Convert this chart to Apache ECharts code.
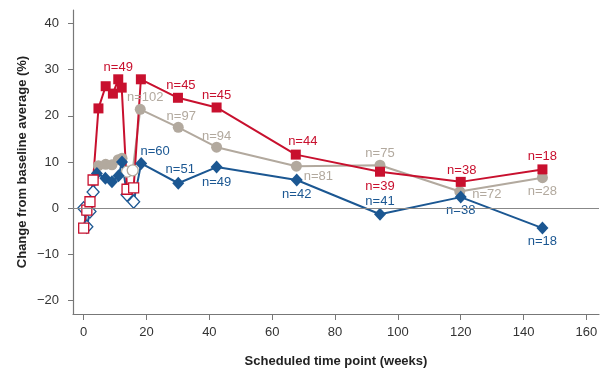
<!DOCTYPE html>
<html>
<head>
<meta charset="utf-8">
<script src="https://cdn.jsdelivr.net/npm/echarts@6/dist/echarts.min.js"></script>
<style>html,body{margin:0;padding:0;background:#fff}#c{width:615px;height:373px}</style>
</head>
<body>
<div id="c"></div>
<script>
// ---- data ----
const xTicks = [0, 20, 40, 60, 80, 100, 120, 140, 160];
const yTicks = [-20, -10, 0, 10, 20, 30, 40];

const redWeeks  = [0, 1, 2, 3, 4.7, 7, 9.3, 11, 12.1, 13.8, 15.9, 18.2, 30, 42.3, 67.5, 94.3, 120, 146];
const redValues = [-4.3, -0.4, 1.4, 6.1, 21.6, 26.4, 24.8, 27.9, 26.1, 4.1, 4.4, 27.9, 23.9, 21.8, 11.6, 7.9, 5.7, 8.4];
const redOpen   = [1, 1, 1, 1, 0, 0, 0, 0, 0, 1, 1, 0, 0, 0, 0, 0, 0, 0];
const redN      = ['', '', '', '', '', '', '', 'n=49', '', '', '', '', 'n=45', 'n=45', 'n=44', 'n=39', 'n=38', 'n=18'];

const grayWeeks  = [4.7, 7, 9, 11, 12.2, 13.8, 15.6, 18, 30.1, 42.3, 67.7, 94.3, 119.7, 146];
const grayValues = [9.2, 9.5, 9.4, 10.5, 10.8, 7.9, 8.2, 21.4, 17.5, 13.2, 9.1, 9.3, 3.6, 6.6];
const grayOpen   = [0, 0, 0, 0, 0, 1, 1, 0, 0, 0, 0, 0, 0, 0];
const grayN      = ['', '', '', '', '', '', '', 'n=102', 'n=97', 'n=94', 'n=81', 'n=75', 'n=72', 'n=28'];

const blueWeeks  = [0, 1, 2, 3, 4.2, 6.9, 9, 11.1, 12.2, 13.8, 15.9, 18.3, 30.1, 42.3, 67.8, 94.3, 120, 146];
const blueValues = [0, -4.0, -0.7, 3.5, 7.5, 6.5, 5.7, 7.0, 10.0, 2.9, 1.4, 9.7, 5.4, 8.9, 6.1, -1.3, 2.4, -4.3];
const blueOpen   = [1, 1, 1, 1, 0, 0, 0, 0, 0, 1, 1, 0, 0, 0, 0, 0, 0, 0];
const blueN      = ['', '', '', '', '', '', '', '', '', '', '', 'n=60', 'n=51', 'n=49', 'n=42', 'n=41', 'n=38', 'n=18'];

// ---- styles ----
const RED = '#c8102e', GRAY = '#b2a99e', BLUE = '#1b5792';
const redOff  = {7:[0,-12], 12:[3,-12], 13:[0,-12], 14:[7,-13], 15:[0,15], 16:[1,-11], 17:[0,-13]};
const grayOff = {7:[5,-12], 8:[3,-11], 9:[0,-11], 10:[22,10], 11:[0,-12], 12:[27,3], 13:[0,14]};
const blueOff = {11:[14,-12], 12:[2,-14], 13:[0,15], 14:[0,14], 15:[0,-13], 16:[0,13], 17:[0,13]};

function build(weeks, vals, open, ns, offs, color) {
  return weeks.map((w, i) => ({
    value: [w, vals[i]],
    itemStyle: open[i] ? {color: '#fff', borderColor: color, borderWidth: 1.3}
                       : {color: color, borderColor: color, borderWidth: 0},
    label: ns[i] ? {show: true, formatter: ns[i], position: 'inside', offset: offs[i] || [0, -12],
                    color: color, fontSize: 13, fontFamily: 'Liberation Sans'} : {show: false}
  }));
}

const axisFont = {fontFamily: 'Liberation Sans', fontSize: 13, color: '#333'};

const option = {
  animation: false,
  backgroundColor: '#fff',
  grid: {left: 73, right: 16, top: 10, bottom: 56, containLabel: false},
  xAxis: {
    type: 'value', min: -3.4, max: 164,
    name: 'Scheduled time point (weeks)', nameLocation: 'middle', nameGap: 41,
    nameTextStyle: {fontFamily: 'Liberation Sans', fontSize: 13, fontWeight: 'bold', color: '#222'},
    axisLine: {show: true, onZero: false, lineStyle: {color: '#777', width: 1.2}},
    axisTick: {show: true, length: 6, customValues: xTicks, lineStyle: {color: '#777'}},
    axisLabel: Object.assign({customValues: xTicks, margin: 12}, axisFont),
    splitLine: {show: false}
  },
  yAxis: {
    type: 'value', min: -22.9, max: 42.9,
    name: 'Change from baseline average (%)', nameLocation: 'middle', nameGap: 44,
    nameMoveOverlap: false,
    nameTextStyle: {fontFamily: 'Liberation Sans', fontSize: 13, fontWeight: 'bold', color: '#222'},
    axisLine: {show: true, onZero: false, lineStyle: {color: '#777', width: 1.2}},
    axisTick: {show: true, length: 5, customValues: yTicks, lineStyle: {color: '#777'}},
    axisLabel: Object.assign({customValues: yTicks, margin: 14, formatter: v => v < 0 ? '\u2212' + Math.abs(v) : String(v)}, axisFont),
    splitLine: {show: false}
  },
  series: [
    {
      type: 'line', name: 'gray', symbol: 'circle', symbolSize: 11,
      lineStyle: {color: GRAY, width: 2}, itemStyle: {color: GRAY},
      data: build(grayWeeks, grayValues, grayOpen, grayN, grayOff, GRAY),
      markLine: {silent: true, symbol: 'none', label: {show: false},
                 lineStyle: {color: '#888', width: 1, type: 'solid'}, data: [{yAxis: 0}]}
    },
    {
      type: 'line', name: 'blue', symbol: 'diamond', symbolSize: [12, 13],
      lineStyle: {color: BLUE, width: 2}, itemStyle: {color: BLUE},
      data: build(blueWeeks, blueValues, blueOpen, blueN, blueOff, BLUE)
    },
    {
      type: 'line', name: 'red', symbol: 'rect', symbolSize: 10,
      lineStyle: {color: RED, width: 2}, itemStyle: {color: RED},
      data: build(redWeeks, redValues, redOpen, redN, redOff, RED)
    }
  ]
};
const chart = echarts.init(document.getElementById('c'), null, {renderer: 'canvas'});
chart.setOption(option);
</script>
</body>
</html>
